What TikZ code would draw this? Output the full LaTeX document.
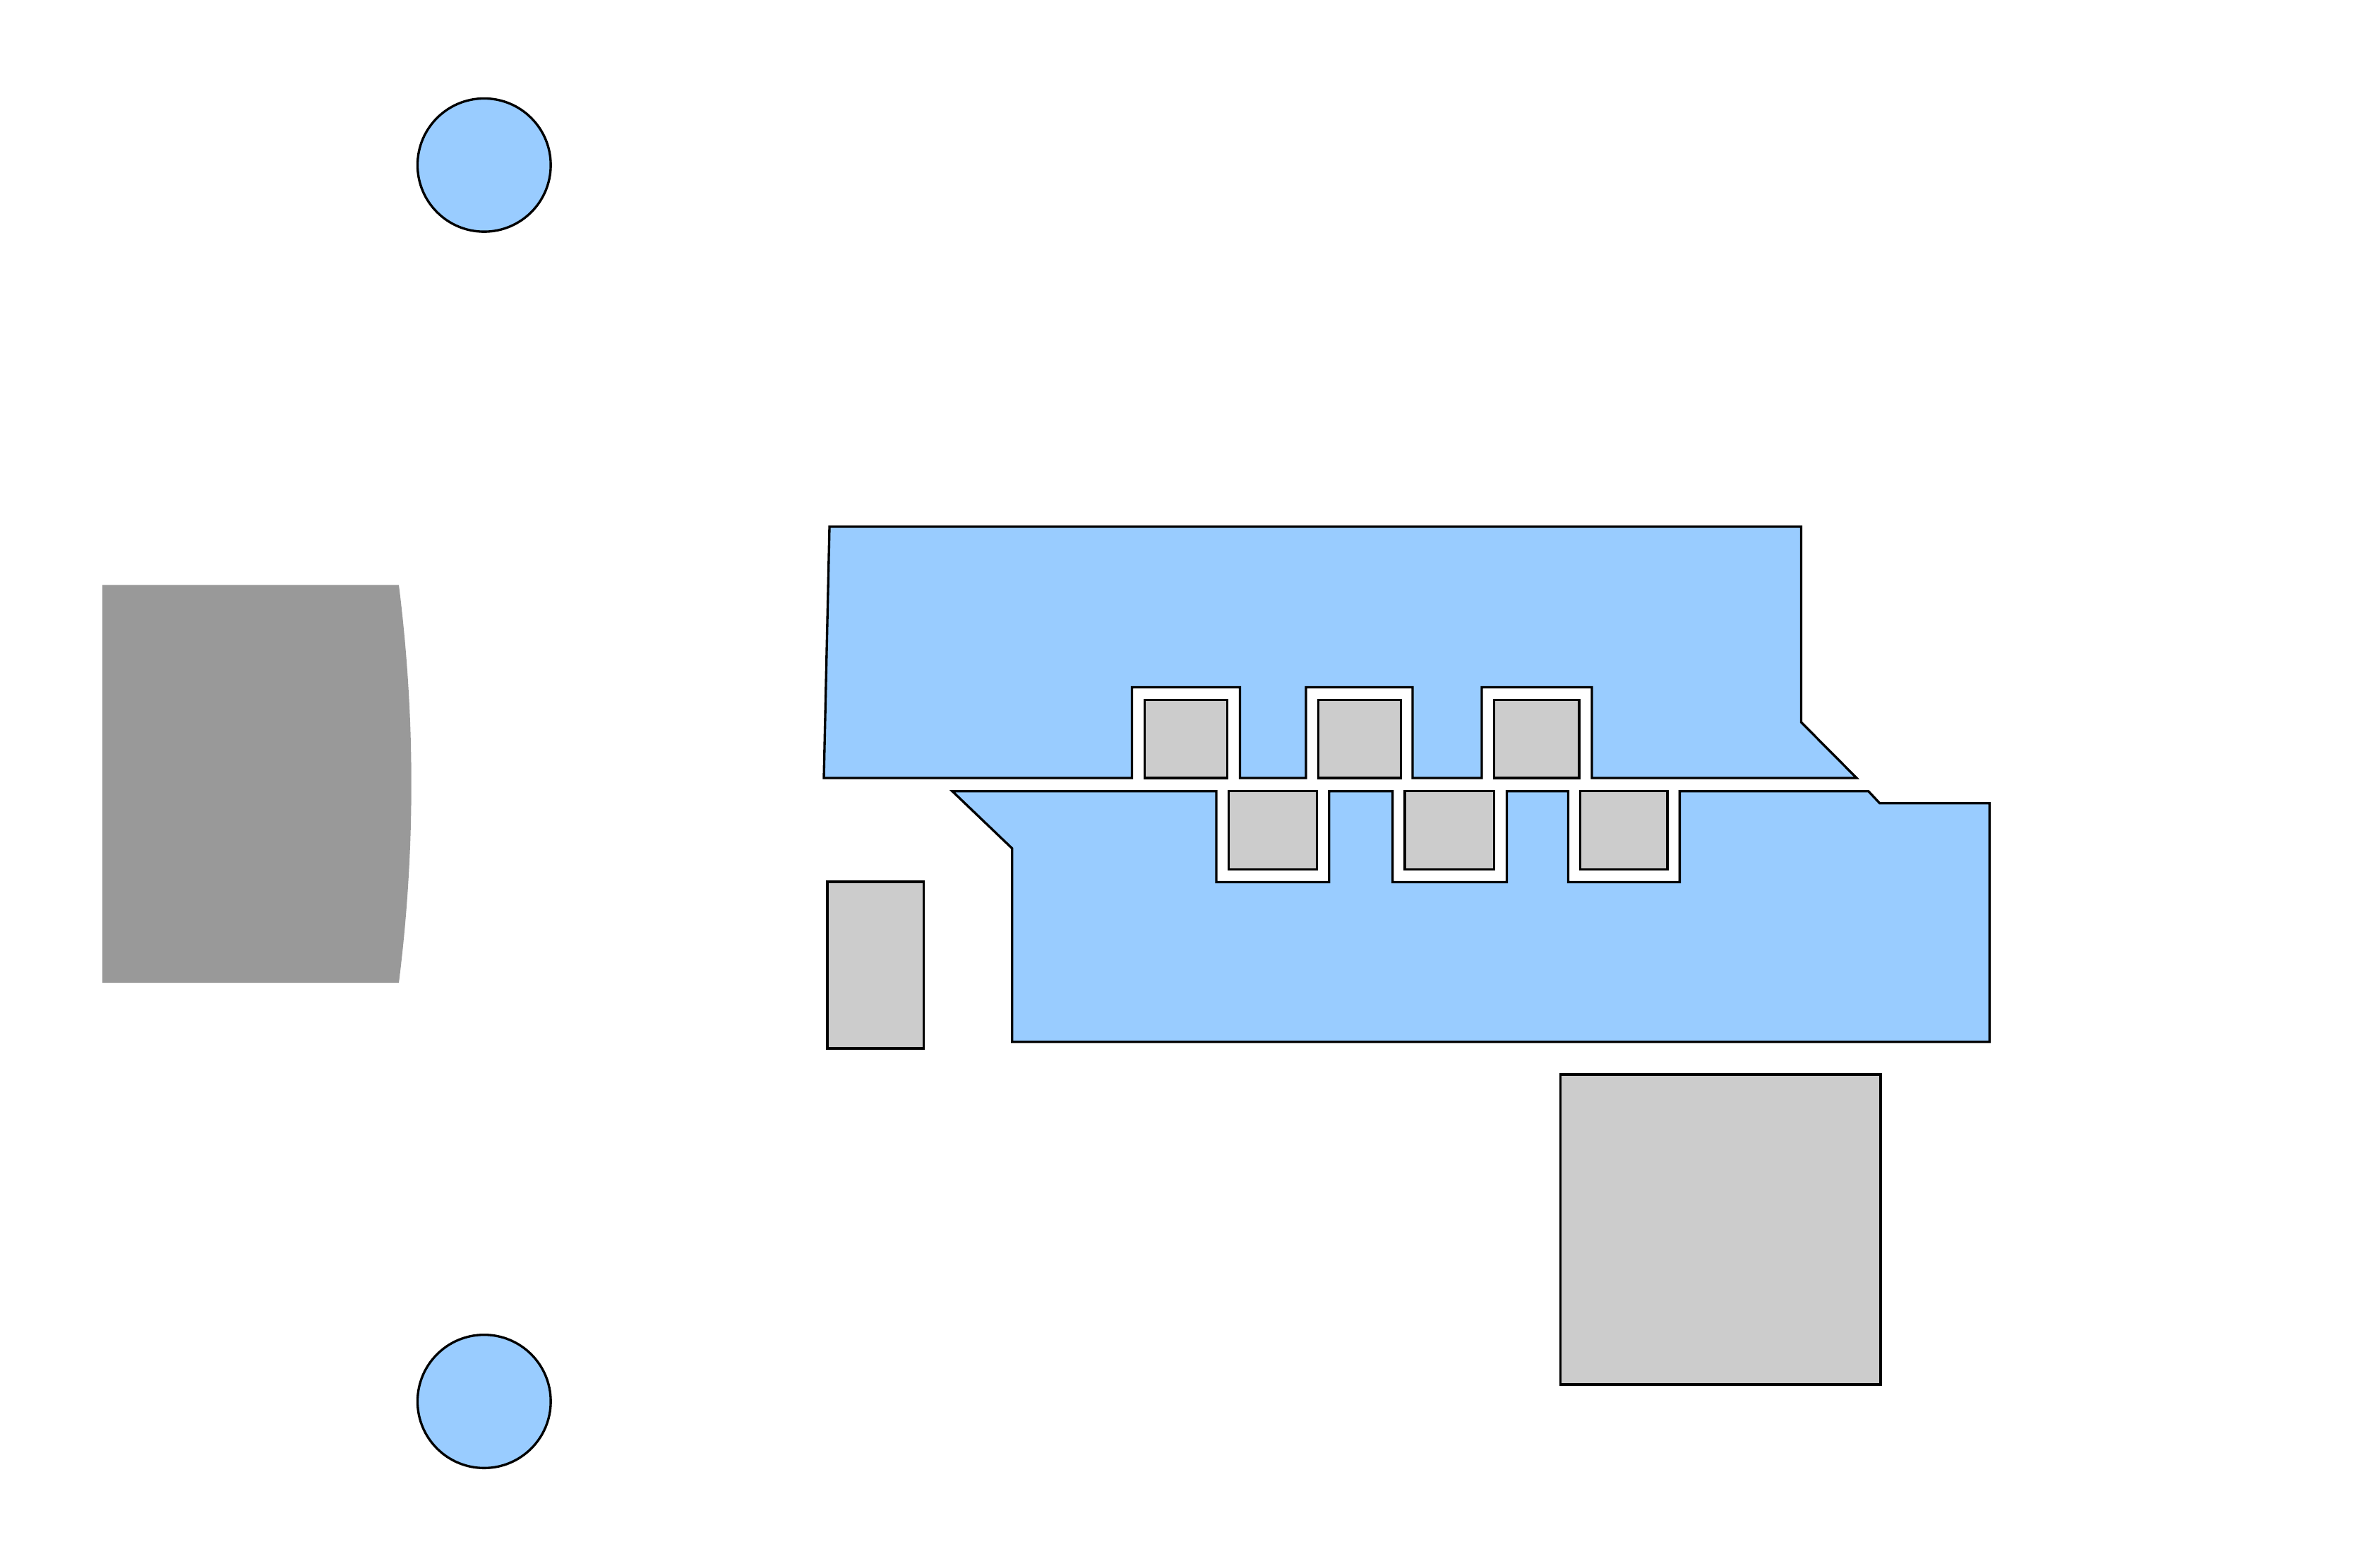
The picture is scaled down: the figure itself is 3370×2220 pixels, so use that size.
\documentclass[tikz,border=0pt]{standalone}
\usepackage{tikz}
\definecolor{pale}{HTML}{99CCFF}
\definecolor{lgray}{HTML}{CCCCCC}
\definecolor{dgray}{HTML}{999999}
\tikzset{
  bluepart/.style={draw=black, fill=pale, line width=0.95pt},
  graypart/.style={draw=black, fill=lgray, line width=0.95pt},
  darkpart/.style={fill=dgray, draw=none}
}
\begin{document}
\begin{tikzpicture}[x=0.01cm, y=-0.01cm]
\useasboundingbox (0,0) rectangle (3370,2220);
\fill[white] (0,0) rectangle (3370,2220);

% circles
\node[bluepart, circle, minimum size=188.6\pgflinewidth, inner sep=0pt, minimum size=1.886cm] (c1) at (685.8,233.8) {};
\node[bluepart, circle, inner sep=0pt, minimum size=1.886cm] (c2) at (685.8,1985) {};

% dark gray curved shape
\fill[dgray] (145,828.7) -- (565,828.7) .. controls (588.6,1016.5) and (588.6,1204.2) .. (565,1392) -- (145,1392) -- cycle;

% upper blue polygon
\draw[bluepart] (1175,746) -- (2551.5,746) -- (2551.5,1023) -- (2630,1102)
  -- (2255,1102) -- (2255,973.5) -- (2099,973.5) -- (2099,1102)
  -- (2001,1102) -- (2001,973.5) -- (1850,973.5) -- (1850,1102)
  -- (1756.5,1102) -- (1756.5,973.5) -- (1603.5,973.5) -- (1603.5,1102)
  -- (1167,1102) -- cycle;
\draw[graypart] (1621.6,991.4) rectangle (1738.3,1102);
\draw[graypart] (1867.5,991.4) rectangle (1984.2,1102);
\draw[graypart] (2116.2,991.4) rectangle (2236.8,1102);

% lower blue polygon
\draw[bluepart] (1349,1120.7) -- (1723,1120.7) -- (1723,1249.5) -- (1882.8,1249.5)
  -- (1882.8,1120.7) -- (1972.7,1120.7) -- (1972.7,1249.5) -- (2134.4,1249.5)
  -- (2134.4,1120.7) -- (2221.5,1120.7) -- (2221.5,1249.5) -- (2379.3,1249.5)
  -- (2379.3,1120.7) -- (2646.7,1120.7) -- (2662.7,1137.7) -- (2818.3,1137.7)
  -- (2818.3,1475.7) -- (1433.7,1475.7) -- (1433.7,1201.7) -- cycle;
\draw[graypart] (1740.3,1120.7) rectangle (1865.6,1231.4);
\draw[graypart] (1990,1120.7) rectangle (2116.2,1231.4);
\draw[graypart] (2238.7,1120.7) rectangle (2362.1,1231.4);

% small and large gray boxes
\draw[graypart] (1172,1249) rectangle (1308.3,1485);
\draw[graypart] (2210.7,1522) rectangle (2664,1961);
\end{tikzpicture}
\end{document}
